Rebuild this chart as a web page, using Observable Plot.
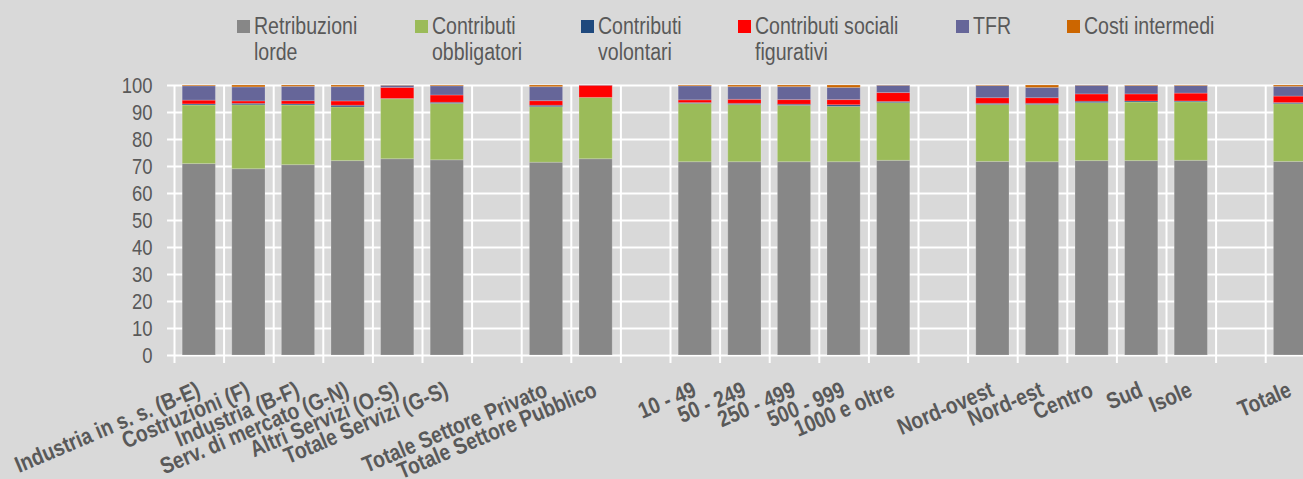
<!DOCTYPE html>
<html><head><meta charset="utf-8">
<script src="https://cdn.jsdelivr.net/npm/d3@7"></script>
<script src="https://cdn.jsdelivr.net/npm/@observablehq/plot@0.6"></script>
<style>
html,body{margin:0;padding:0;background:#d9d9d9;overflow:hidden;width:1303px;height:479px;}
#wrap{position:relative;width:1303px;height:479px;overflow:hidden;}
#chart{position:absolute;left:0;top:0;width:1318px;}
#chart svg{max-width:none !important;display:block;}
#legend{position:absolute;left:0;top:0;width:1303px;height:70px;}
.item{position:absolute;top:0;font-family:"Liberation Sans",Arial,sans-serif;font-size:23px;color:#595959;line-height:26px;}
.sw{position:absolute;width:13px;height:13px;top:20px;}
.lab{position:absolute;top:13px;left:17px;white-space:pre;transform:scaleX(0.85);transform-origin:0 0;}
</style></head><body>
<div id="wrap"><div id="chart"></div><div id="legend"></div></div>
<script>
const categories = ["Industria in s. s. (B-E)", "Costruzioni (F)", "Industria (B-F)", "Serv. di mercato (G-N)", "Altri Servizi (O-S)", "Totale Servizi (G-S)", " ", "Totale Settore Privato", "Totale Settore Pubblico", "  ", "10 - 49", "50 - 249", "250 - 499", "500 - 999", "1000 e oltre", "   ", "Nord-ovest", "Nord-est", "Centro", "Sud", "Isole", "    ", "Totale"];
const seriesNames = ["Retribuzioni lorde", "Contributi obbligatori", "Contributi volontari", "Contributi sociali figurativi", "TFR", "Costi intermedi"];
const legendLabels = ["Retribuzioni\nlorde", "Contributi\nobbligatori", "Contributi\nvolontari", "Contributi sociali\nfigurativi", "TFR", "Costi intermedi"];
const colors = ["#878787", "#9BBB59", "#1F497D", "#FF0000", "#666699", "#CC6600"];
const retribuzioni = [70.9, 69.0, 70.5, 72.0, 72.7, 72.3, null, 71.4, 72.7, null, 71.6, 71.6, 71.6, 71.6, 72.1, null, 71.7, 71.6, 72.0, 72.0, 72.1, null, 71.7];
const obbligatori  = [21.7, 23.7, 22.1, 19.9, 22.2, 20.9, null, 20.6, 22.7, null, 21.6, 21.2, 20.9, 20.5, 21.4, null, 21.1, 21.2, 21.5, 21.7, 21.7, null, 21.4];
const volontari    = [0.4, 0.5, 0.4, 0.6, 0.1, 0.4, null, 0.5, 0.0, null, 0.3, 0.4, 0.4, 0.6, 0.4, null, 0.4, 0.4, 0.5, 0.4, 0.3, null, 0.4];
const figurativi   = [1.4, 0.9, 1.2, 1.6, 4.1, 2.7, null, 1.7, 4.5, null, 1.0, 1.5, 1.7, 1.9, 3.3, null, 2.1, 2.1, 2.7, 2.6, 2.9, null, 2.4];
const tfr          = [5.3, 5.2, 5.3, 5.3, 0.8, 3.4, null, 5.2, 0.1, null, 5.2, 4.7, 4.8, 4.5, 2.7, null, 4.5, 3.8, 3.2, 3.1, 2.8, null, 3.6];
const intermedi    = [0.3, 0.7, 0.5, 0.6, 0.1, 0.3, null, 0.6, 0.0, null, 0.3, 0.6, 0.6, 0.9, 0.1, null, 0.2, 0.9, 0.1, 0.2, 0.2, null, 0.5];
const yTicks = [0, 10, 20, 30, 40, 50, 60, 70, 80, 90, 100];

const seriesValues = [retribuzioni, obbligatori, volontari, figurativi, tfr, intermedi];
const table = [];
categories.forEach((c, i) => {
  seriesValues.forEach((vals, s) => {
    if (vals[i] != null) table.push({cat: c, series: seriesNames[s], value: vals[i]});
  });
});

const step = 49.6, left = 174, n = categories.length, pad = 0.33;
const width = 1318;
const r0 = left - (pad / 2) * step;
const r1 = r0 + step * (n + pad);
const font = '"Liberation Sans",Arial,sans-serif';

const chart = Plot.plot({
  width, height: 479,
  marginTop: 85, marginBottom: 124, marginLeft: left, marginRight: 3,
  style: {background: "transparent", fontFamily: font, color: "#595959", overflow: "visible", maxWidth: "none"},
  x: {domain: categories, padding: pad, range: [r0, r1], round: false, axis: null},
  y: {domain: [0, 100], axis: null, label: null},
  color: {domain: seriesNames, range: colors},
  marks: [
    Plot.ruleY(yTicks, {y: d => d, stroke: "white", strokeWidth: 2, insetLeft: -7}),
    Plot.ruleX(categories, {x: d => d, dx: -step / 2, y1: 100, y2: 0, insetBottom: -8, stroke: "white", strokeWidth: 2}),
    Plot.ruleX([categories[n - 1]], {x: d => d, dx: step / 2, y1: 100, y2: 0, insetBottom: -8, stroke: "white", strokeWidth: 2}),
    Plot.barY(table, {x: "cat", y: "value", fill: "series", stroke: "white", strokeOpacity: 0.2, strokeWidth: 1}),
    Plot.axisY({ticks: yTicks, tickSize: 0, tickPadding: 22, fontSize: 22, fill: "#595959", label: null}),
    Plot.text(categories, {x: d => d, text: d => d.trim(), frameAnchor: "bottom", dx: -4, dy: 25, rotate: -23, textAnchor: "end", lineAnchor: "top", fontWeight: "bold", fontSize: 23, fill: "#595959"})
  ]
});
// condense text horizontally (Arial Narrow look)
d3.select(chart).selectAll("text").each(function() {
  const t = this.getAttribute("transform");
  if (t) this.setAttribute("transform", t + " scale(0.84,1)");
});
document.getElementById("chart").appendChild(chart);

const legendX = [237, 415, 581, 738, 956, 1067];
const legend = document.getElementById("legend");
seriesNames.forEach((s, i) => {
  const item = document.createElement("div");
  item.className = "item";
  item.style.left = legendX[i] + "px";
  const sw = document.createElement("div");
  sw.className = "sw";
  sw.style.background = colors[i];
  const lab = document.createElement("div");
  lab.className = "lab";
  lab.textContent = legendLabels[i];
  item.appendChild(sw);
  item.appendChild(lab);
  legend.appendChild(item);
});
</script>
</body></html>
